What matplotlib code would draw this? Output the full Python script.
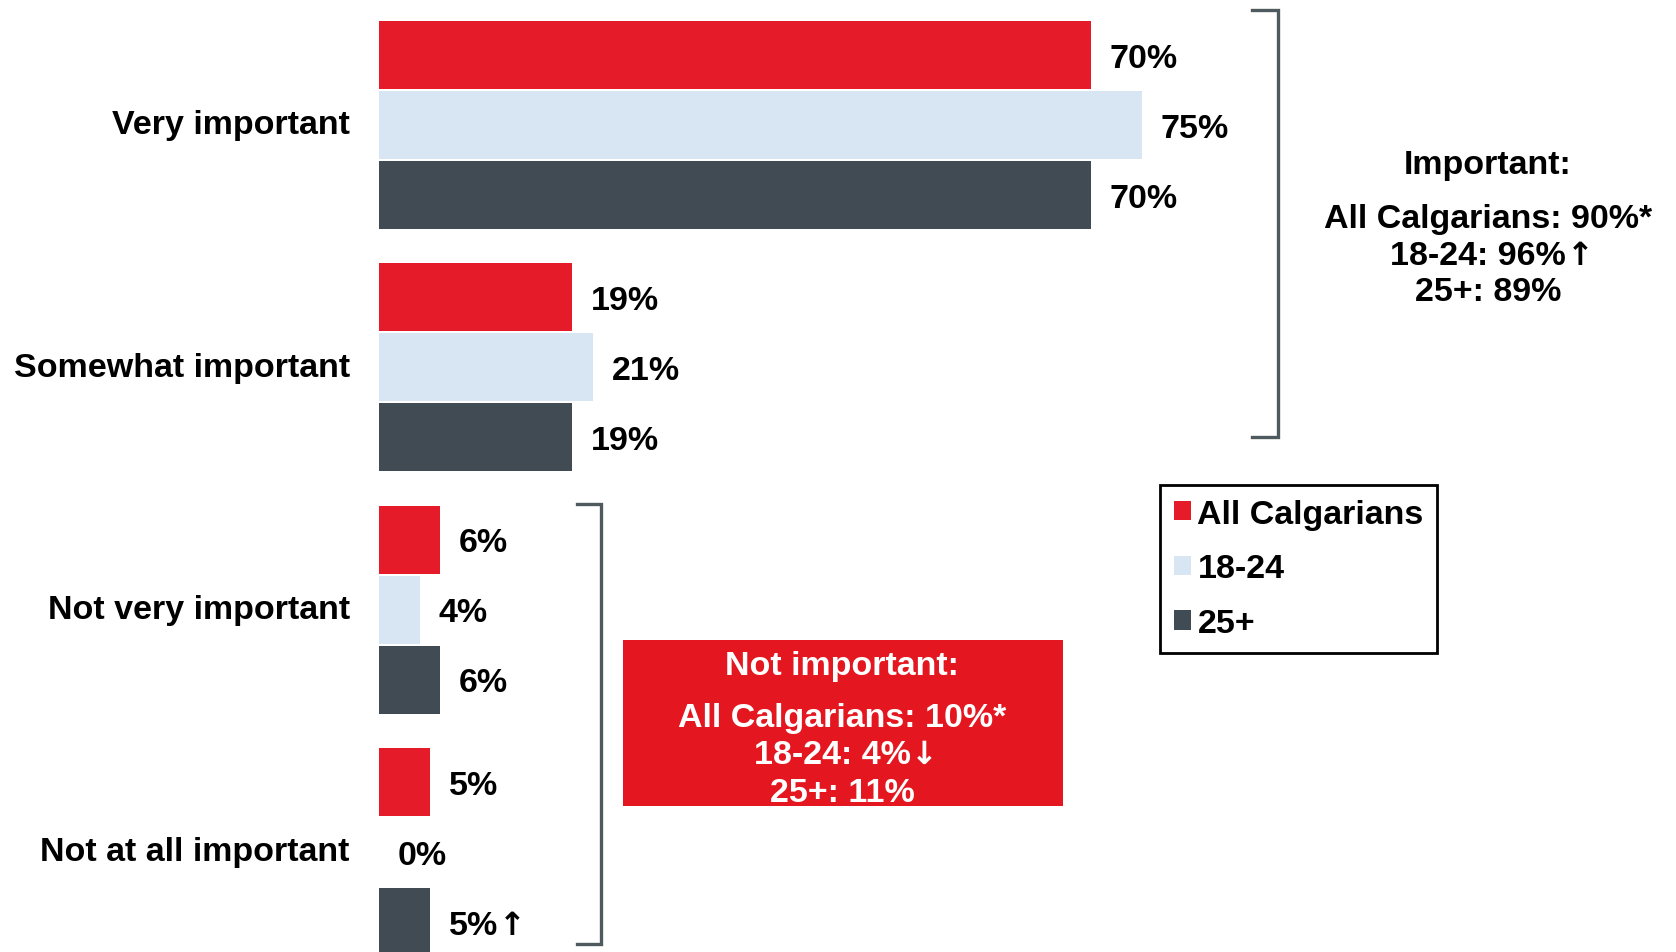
import matplotlib
matplotlib.use('Agg')
import matplotlib.pyplot as plt
from matplotlib.patches import Patch, Rectangle

plt.rcParams['font.family'] = ['Liberation Sans', 'DejaVu Sans']
plt.rcParams['font.weight'] = 'bold'

categories = ['Very important', 'Somewhat important', 'Not very important', 'Not at all important']
series_names = ['All Calgarians', '18-24', '25+']
all_calgarians = [70, 19, 6, 5]
age_18_24 = [75, 21, 4, 0]
age_25_plus = [70, 19, 6, 5]
# significance arrows shown after some value labels
arrows_25_plus = ['', '', '', '\u2191']

important_lines = ['All Calgarians: 90%*', '18-24: 96%', '25+: 89%']
important_arrows = ['', '\u2191', '']
not_important_lines = ['All Calgarians: 10%*', '18-24: 4%', '25+: 11%']
not_important_arrows = ['', '\u2193', '']

red = '#e61b2a'
light = '#d7e6f2'
dark = '#414b53'
bracket_col = '#4f5a5e'
fs = 24.5
arrow_font = {'family': 'DejaVu Sans', 'weight': 'bold', 'size': 23}


def add_arrow(axes, txt, arrow, color='black'):
    # arrow glyph drawn right after a text, in a font with a heavier arrow
    if arrow:
        axes.annotate(arrow, xy=(1, 0.5), xycoords=txt, xytext=(0.5, 0),
                      textcoords='offset points', ha='left', va='center',
                      color=color, fontproperties=arrow_font)


W, H = 1676, 953
fig = plt.figure(figsize=(W / 100, H / 100), dpi=100)

# bar axes: 1% == ~10.17 px, groups 242.5 px apart
top_c, spacing = 125.5, 242.5
ax = fig.add_axes([379 / W, 0, 1017 / W, 1])
ax.set_xlim(0, 100)
ax.set_ylim((H - top_c) / spacing, -top_c / spacing)
for s in ax.spines.values():
    s.set_visible(False)
ax.set_xticks([])

step = 70 / spacing
height = 68 / spacing
series = [all_calgarians, age_18_24, age_25_plus]
colors = [red, light, dark]
arrows = [[''] * 4, [''] * 4, arrows_25_plus]
for k, (vals, col, arr) in enumerate(zip(series, colors, arrows)):
    ys = [i + (k - 1) * step for i in range(len(categories))]
    ax.barh(ys, vals, height=height, color=col, edgecolor='none')
    for y, v, a in zip(ys, vals, arr):
        t = ax.annotate(f'{v}%', (v, y), xytext=(13.7, 0), textcoords='offset points',
                        ha='left', va='center_baseline', fontsize=fs,
                        fontweight='bold', color='black')
        add_arrow(ax, t, a)

ax.set_yticks(range(len(categories)))
ax.set_yticklabels(categories, fontsize=fs, fontweight='bold', va='center')
ax.tick_params(axis='y', length=0, pad=21)

# overlay in pixel coordinates for brackets, callouts and legend
ov = fig.add_axes([0, 0, 1, 1], zorder=5)
ov.set_xlim(0, W)
ov.set_ylim(H, 0)
ov.axis('off')
ov.patch.set_alpha(0)

ov.plot([1252, 1278, 1278, 1252], [11, 11, 438, 438], color=bracket_col, lw=2.4,
        solid_joinstyle='miter')
ov.plot([577, 601, 601, 577], [505, 505, 945, 945], color=bracket_col, lw=2.4,
        solid_joinstyle='miter')

ov.text(1488, 162, 'Important:', ha='center', va='center_baseline', fontsize=fs,
        fontweight='bold')
for y, t, a in zip([216, 253, 289], important_lines, important_arrows):
    x = 1488 - (10 if a else 0)
    tx = ov.text(x, y, t, ha='center', va='center_baseline', fontsize=fs, fontweight='bold')
    add_arrow(ov, tx, a)

ov.add_patch(Rectangle((623, 641), 440, 166, facecolor='#e4161f', edgecolor='none'))
ov.text(842, 663, 'Not important:', ha='center', va='center_baseline', fontsize=fs,
        fontweight='bold', color='white')
for y, t, a in zip([715, 752, 790], not_important_lines, not_important_arrows):
    x = 842 - (10 if a else 0)
    tx = ov.text(x, y, t, ha='center', va='center_baseline', fontsize=fs,
                 fontweight='bold', color='white')
    add_arrow(ov, tx, a, color='white')

handles = [Patch(facecolor=c, edgecolor='none', label=n) for c, n in zip(colors, series_names)]
leg = ov.legend(handles=handles, loc='upper left', bbox_to_anchor=(1160 / W, 1 - 486 / H),
                bbox_transform=fig.transFigure, prop={'size': fs, 'weight': 'bold'},
                handlelength=0.5, handleheight=0.5, handletextpad=0.2,
                labelspacing=0.7, borderpad=0.4, borderaxespad=0, fancybox=False,
                framealpha=1)
leg.get_frame().set_edgecolor('black')
leg.get_frame().set_linewidth(2)

fig.savefig('out.png', dpi=100, facecolor='white')
